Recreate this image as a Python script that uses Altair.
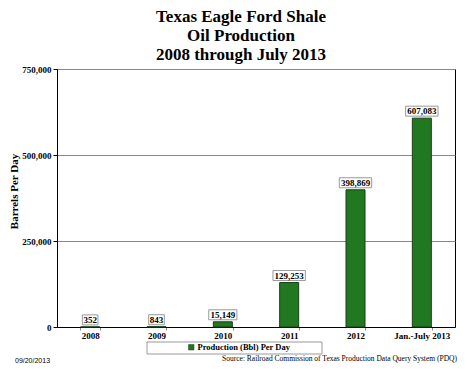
import altair as alt
import pandas as pd

categories = ["2008", "2009", "2010", "2011", "2012", "Jan.-July 2013"]
production = [352, 843, 15149, 129253, 398869, 607083]
series_name = "Production  (Bbl) Per Day"
title_lines = ["Texas Eagle Ford Shale", "Oil Production", "2008 through July 2013"]
source_text = "Source: Railroad Commission of Texas Production Data Query System (PDQ)"
date_text = "09/20/2013"

df = pd.DataFrame({"cat": categories, "val": production})
df["label"] = [f"{v:,}" for v in production]
df["series"] = series_name

SERIF = "Liberation Serif"

x_enc = alt.X("cat:N", sort=categories, title=None,
              scale=alt.Scale(paddingInner=0.7, paddingOuter=0.35),
              axis=alt.Axis(labelAngle=0, labelFont=SERIF, labelFontWeight="bold",
                            labelFontSize=9, labelColor="black", domainColor="black",
                            tickColor="#888", tickSize=3, tickBand="extent",
                            labelPadding=1))
y_enc = alt.Y("val:Q", title="Barrels Per Day",
              scale=alt.Scale(domain=[0, 750000], nice=False),
              axis=alt.Axis(values=[0, 250000, 500000, 750000], format=",.0f",
                            labelFont=SERIF, labelFontWeight="bold", labelFontSize=9,
                            labelColor="black", domainColor="black", tickColor="black",
                            tickSize=4, labelPadding=2, gridColor="#888",
                            titleFont=SERIF, titleFontWeight="bold", titleFontSize=11,
                            titleColor="black", titleX=-43, titleY=122,
                            titleAlign="center", titleBaseline="middle", titleAngle=270))

base = alt.Chart(df)

bars = base.mark_bar(size=19, stroke="#174017", strokeWidth=1).encode(
    x=x_enc, y=y_enc,
    color=alt.Color("series:N", scale=alt.Scale(range=["#217821"]),
                    legend=alt.Legend(title=None, orient="none", legendX=129, legendY=273,
                                      symbolType="square", symbolSize=30,
                                      labelFont=SERIF, labelFontWeight="bold",
                                      labelFontSize=8.5, labelColor="black",
                                      symbolStrokeColor="#174017", symbolStrokeWidth=0.5,
                                      padding=1, labelOffset=2)),
)

boxes = base.transform_calculate(w="length(datum.label) * 4.2 + 3").mark_bar(
    fill="white", stroke="#999", strokeWidth=1, yOffset=-12, y2Offset=-2
).encode(
    x=alt.X("cat:N", sort=categories),
    y="val:Q", y2="val:Q",
    size=alt.Size("w:Q", scale=None, legend=None),
)

labels = base.mark_text(font=SERIF, fontWeight="bold", fontSize=9, color="black",
                        baseline="middle", dy=-7).encode(
    x=alt.X("cat:N", sort=categories), y="val:Q", text="label:N")

legend_box = alt.Chart(pd.DataFrame({"a": [0]})).mark_rect(
    fill="white", stroke="#999", strokeWidth=1).encode(
    x=alt.value(90), x2=alt.value(265), y=alt.value(273), y2=alt.value(285))

source = alt.Chart(pd.DataFrame({"t": [source_text]})).mark_text(
    font=SERIF, fontSize=7.5, align="right", baseline="middle", color="black").encode(
    x=alt.value(400), y=alt.value(290), text="t:N")

date = alt.Chart(pd.DataFrame({"t": [date_text]})).mark_text(
    font="Liberation Sans", fontSize=7, align="left", baseline="middle", color="black").encode(
    x=alt.value(-42), y=alt.value(292), text="t:N")

chart = alt.layer(legend_box, bars, boxes, labels, source, date).properties(
    width=398, height=258,
    title=alt.TitleParams(title_lines, font=SERIF, fontSize=17, fontWeight="bold",
                          color="black", anchor="middle", frame="group", dx=-15,
                          lineHeight=19, offset=1),
    padding={"left": 49, "top": 61, "right": 4, "bottom": 45},
    autosize=alt.AutoSizeParams(type="none"),
).configure_view(stroke="black", strokeWidth=1).configure_axis(grid=True)

chart = chart.configure_axisX(grid=False)

chart.save("out.html", embed_options={"renderer": "svg", "actions": False})
